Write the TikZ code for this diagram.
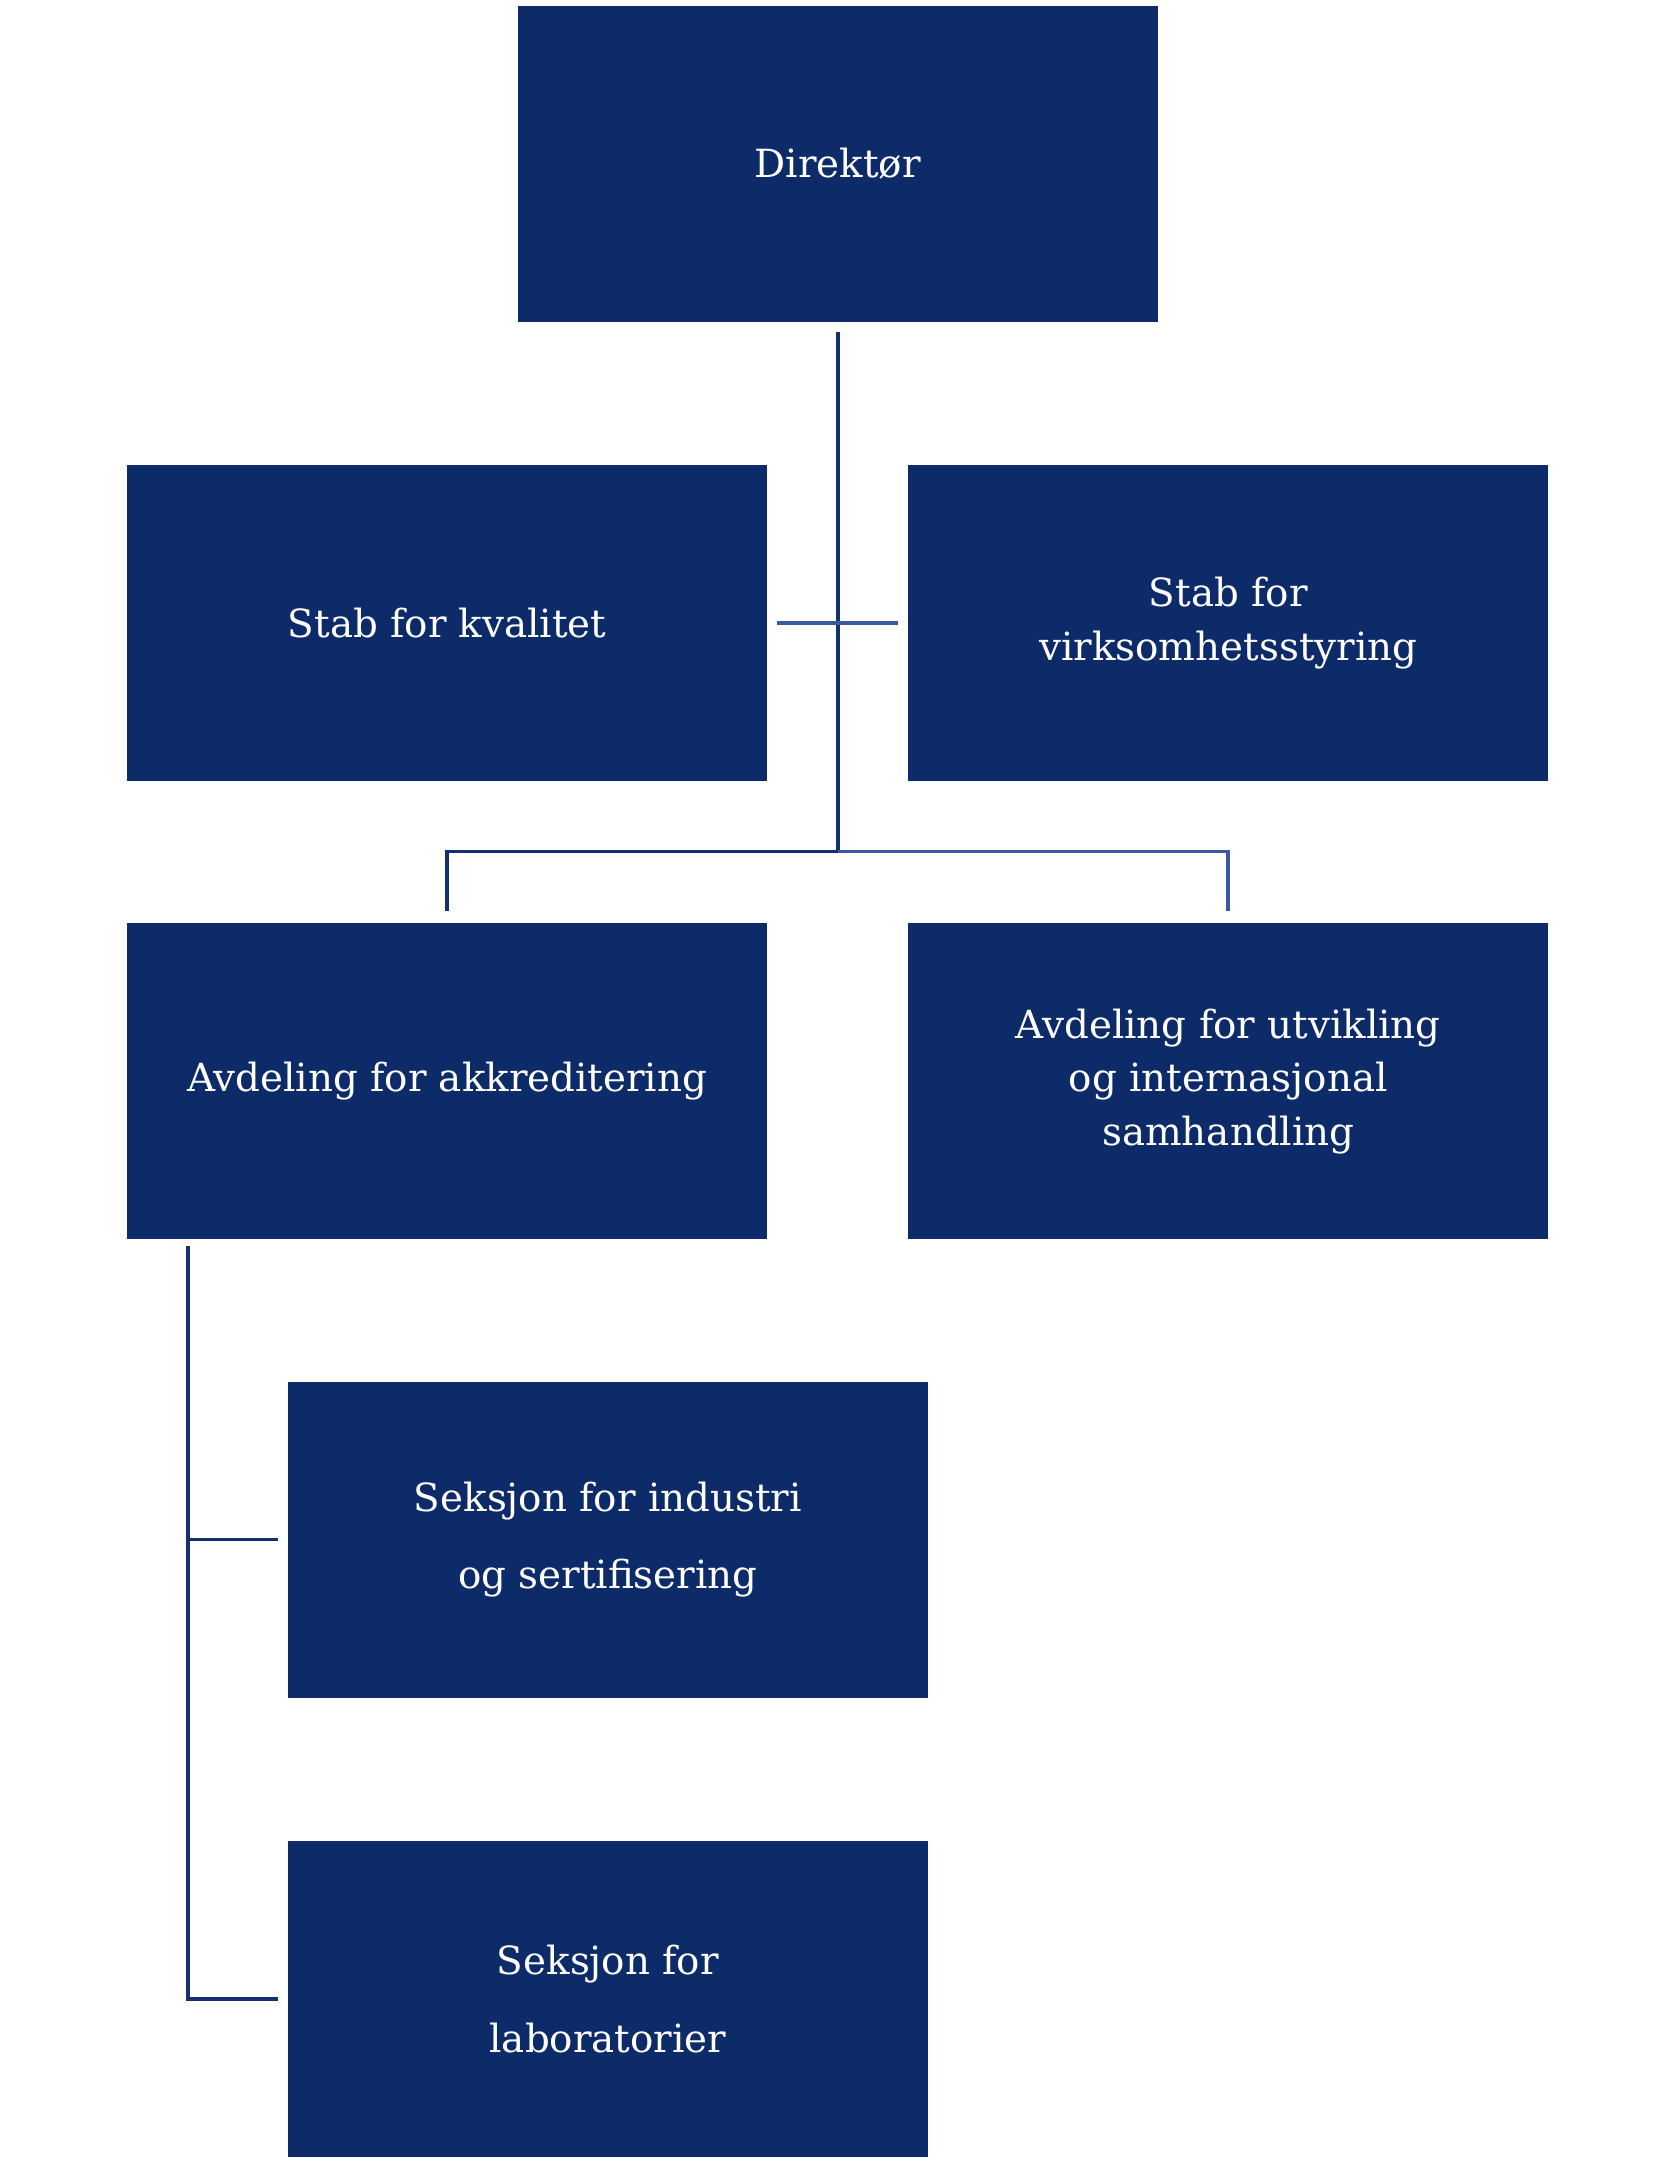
\documentclass[tikz,border=0pt]{standalone}
\usepackage{fontspec}
\setmainfont{DejaVu Serif}
\usetikzlibrary{positioning}
\definecolor{boxblue}{HTML}{0E2B69}
\definecolor{linedark}{HTML}{14306F}
\definecolor{linelight}{HTML}{3A5BA0}

\begin{document}
\begin{tikzpicture}[x=0.02cm,y=-0.02cm,
	unit/.style={fill=boxblue, text=white, minimum width=9.28cm, minimum height=4.58cm,
		align=center, inner sep=0pt, font=\fontsize{16}{22}\selectfont},
	link/.style={draw=linedark, line width=1.5pt},
	linklt/.style={draw=linelight, line width=1.5pt}]

	\useasboundingbox (0,0) rectangle (1216,1568);

	\node[unit] (dir) at (607,118.5) {Direktør};
	\node[unit] (kval) at (324,451.5) {Stab for kvalitet};
	\node[unit] (virk) at (890,451.5) {Stab for\\virksomhetsstyring};
	\node[unit] (akk) at (324,783.5) {Avdeling for akkreditering};
	\node[unit] (utv) at (890,783.5) {Avdeling for utvikling\\og internasjonal\\samhandling};
	\node[unit, font=\fontsize{16}{32}\selectfont] (ind) at (440.5,1115.5) {Seksjon for industri\\og sertifisering};
	\node[unit, font=\fontsize{16}{32}\selectfont] (lab) at (440.5,1448.5) {Seksjon for\\laboratorier};

	\coordinate (hub) at (607,617);
	\coordinate (spine) at (136,903);

	\draw[link] ([yshift=-4pt]dir.south) -- (hub);
	\draw[linklt] ([xshift=4pt]kval.east) -- ([xshift=-4pt]virk.west);
	\draw[link] (hub) -| ([yshift=5pt]akk.north);
	\draw[linklt] (hub) -| ([yshift=5pt]utv.north);
	\draw[link] (spine) |- ([xshift=-4pt]lab.west);
	\draw[link] (spine |- ind.west) -- ([xshift=-4pt]ind.west);
\end{tikzpicture}
\end{document}
